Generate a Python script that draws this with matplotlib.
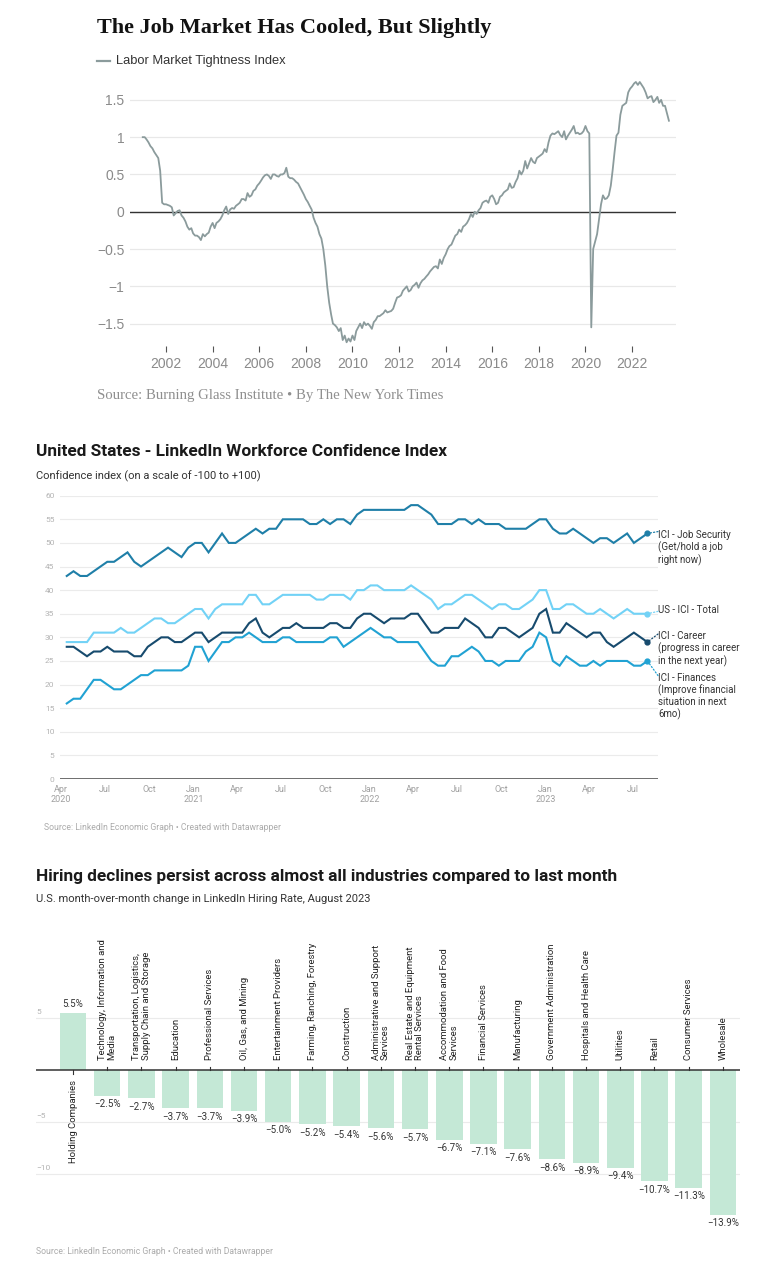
import matplotlib
matplotlib.use('Agg')
import matplotlib.pyplot as plt
import matplotlib.transforms as mtransforms
from matplotlib.lines import Line2D
import pandas as pd

plt.rcParams['font.family'] = ['Roboto', 'DejaVu Sans']

# ---------------------------------------------------------------------------
# Chart 1 - Labor Market Tightness Index, monthly Jan 2001 - Aug 2023
tightness = [
    # 2001
    1.00, 1.00, 0.97, 0.93, 0.88, 0.85, 0.80, 0.76, 0.72, 0.55, 0.12, 0.10,
    # 2002
    0.10, 0.09, 0.08, 0.06, -0.05, -0.02, 0.01, 0.02, -0.05, -0.08, -0.13, -0.20,
    # 2003
    -0.24, -0.22, -0.29, -0.32, -0.32, -0.34, -0.38, -0.30, -0.33, -0.30, -0.28, -0.20,
    # 2004
    -0.15, -0.22, -0.15, -0.13, -0.10, -0.05, 0.02, 0.07, -0.03, 0.03, 0.05, 0.04,
    # 2005
    0.08, 0.10, 0.12, 0.17, 0.17, 0.15, 0.25, 0.20, 0.22, 0.28, 0.30, 0.35,
    # 2006
    0.38, 0.42, 0.46, 0.49, 0.50, 0.48, 0.44, 0.50, 0.50, 0.48, 0.47, 0.50,
    # 2007
    0.50, 0.52, 0.59, 0.47, 0.45, 0.45, 0.43, 0.40, 0.38, 0.33, 0.28, 0.23,
    # 2008
    0.17, 0.13, 0.08, 0.03, -0.08, -0.15, -0.20, -0.30, -0.36, -0.50, -0.72, -1.00,
    # 2009
    -1.22, -1.38, -1.50, -1.52, -1.55, -1.60, -1.56, -1.72, -1.66, -1.75, -1.70, -1.74,
    # 2010
    -1.66, -1.72, -1.60, -1.55, -1.50, -1.56, -1.48, -1.52, -1.50, -1.53, -1.57, -1.48,
    # 2011
    -1.45, -1.40, -1.40, -1.38, -1.36, -1.32, -1.35, -1.34, -1.33, -1.30, -1.22, -1.15,
    # 2012
    -1.14, -1.12, -1.06, -1.03, -1.00, -1.07, -1.05, -1.00, -0.98, -0.95, -1.02, -0.96,
    # 2013
    -0.92, -0.90, -0.87, -0.84, -0.80, -0.77, -0.74, -0.73, -0.76, -0.64, -0.70, -0.62,
    # 2014
    -0.57, -0.50, -0.46, -0.44, -0.38, -0.32, -0.30, -0.24, -0.27, -0.20, -0.18, -0.15,
    # 2015
    -0.10, -0.03, -0.07, 0.00, -0.03, 0.02, 0.05, 0.12, 0.14, 0.15, 0.12, 0.20,
    # 2016
    0.22, 0.17, 0.10, 0.12, 0.20, 0.22, 0.26, 0.28, 0.30, 0.38, 0.32, 0.33,
    # 2017
    0.40, 0.45, 0.55, 0.50, 0.55, 0.68, 0.58, 0.65, 0.72, 0.67, 0.65, 0.72,
    # 2018
    0.74, 0.76, 0.78, 0.84, 0.80, 0.93, 1.02, 1.05, 1.04, 1.06, 1.08, 1.03,
    # 2019
    1.00, 1.08, 0.97, 1.02, 1.06, 1.10, 1.15, 1.05, 1.06, 1.04, 1.05, 1.08,
    # 2020
    1.15, 1.08, 1.05, -1.55, -0.50, -0.40, -0.30, -0.10, 0.10, 0.22, 0.17, 0.18,
    # 2021
    0.22, 0.35, 0.55, 0.80, 1.02, 1.06, 1.30, 1.42, 1.44, 1.46, 1.60, 1.65,
    # 2022
    1.68, 1.72, 1.74, 1.70, 1.74, 1.70, 1.66, 1.60, 1.52, 1.54, 1.55, 1.47,
    # 2023
    1.50, 1.54, 1.46, 1.50, 1.42, 1.42, 1.32, 1.22,
]
tight_dates = pd.date_range('2001-01-01', periods=len(tightness), freq='MS')
tight_yticks = [-1.5, -1, -0.5, 0, 0.5, 1, 1.5]
tight_ylabels = ['\u22121.5', '\u22121', '\u22120.5', '0', '0.5', '1', '1.5']
tight_years = list(range(2002, 2023, 2))

# ---------------------------------------------------------------------------
# Chart 2 - LinkedIn Workforce Confidence Index, biweekly from Apr 2020
wci_start = '2020-04-13'
job_security = [
    43, 44, 43, 43, 44, 45, 46, 46, 47, 48, 46, 45, 46, 47, 48, 49, 48, 47, 49, 50,
    50, 48, 50, 52, 50, 50, 51, 52, 53, 52, 53, 53, 55, 55, 55, 55, 54, 54, 55, 54,
    55, 55, 54, 56, 57, 57, 57, 57, 57, 57, 57, 58, 58, 57, 56, 54, 54, 54, 55, 55,
    54, 55, 54, 54, 54, 53, 53, 53, 53, 54, 55, 55, 53, 52, 52, 53, 52, 51, 50, 51,
    51, 50, 51, 52, 50, 51, 52,
]
ici_total = [
    29, 29, 29, 29, 31, 31, 31, 31, 32, 31, 31, 32, 33, 34, 34, 33, 33, 34, 35, 36,
    36, 34, 36, 37, 37, 37, 37, 39, 39, 37, 37, 38, 39, 39, 39, 39, 39, 38, 38, 39,
    39, 39, 38, 40, 40, 41, 41, 40, 40, 40, 40, 41, 40, 39, 38, 36, 37, 37, 38, 39,
    39, 38, 37, 36, 37, 37, 36, 36, 37, 38, 40, 40, 36, 36, 37, 37, 36, 35, 35, 36,
    35, 34, 35, 36, 35, 35, 35,
]
career = [
    28, 28, 27, 26, 27, 27, 28, 27, 27, 27, 26, 26, 28, 29, 30, 30, 29, 29, 30, 31,
    31, 29, 30, 31, 31, 31, 31, 33, 34, 31, 30, 31, 32, 32, 33, 32, 32, 32, 32, 33,
    33, 32, 32, 34, 35, 35, 34, 33, 34, 34, 34, 35, 35, 33, 31, 31, 32, 32, 32, 34,
    33, 32, 30, 30, 32, 32, 31, 30, 31, 32, 35, 36, 31, 31, 33, 32, 31, 30, 31, 31,
    29, 28, 29, 30, 31, 30, 29,
]
finances = [
    16, 17, 17, 19, 21, 21, 20, 19, 19, 20, 21, 22, 22, 23, 23, 23, 23, 23, 24, 28,
    28, 25, 27, 29, 29, 30, 30, 31, 30, 29, 29, 29, 30, 30, 29, 29, 29, 29, 29, 30,
    30, 28, 29, 30, 31, 32, 31, 30, 30, 29, 29, 29, 29, 27, 25, 24, 24, 26, 26, 27,
    28, 27, 25, 25, 24, 25, 25, 25, 27, 28, 31, 30, 25, 24, 26, 25, 24, 24, 25, 24,
    25, 25, 25, 25, 24, 24, 25,
]
wci_dates = pd.date_range(wci_start, periods=len(job_security), freq='14D')
wci_series = [
    ('ICI - Job Security\n(Get/hold a job\nright now)', job_security, '#1f7fa8', 52.7),
    ('US - ICI - Total', ici_total, '#72d2f6', 35.8),
    ('ICI - Career\n(progress in career\nin the next year)', career, '#174b6e', 31.3),
    ('ICI - Finances\n(Improve financial\nsituation in next\n6mo)', finances, '#21a2d3', 22.5),
]
wci_ticks = pd.date_range('2020-04-01', '2023-07-01', freq='3MS')

# ---------------------------------------------------------------------------
# Chart 3 - month-over-month change in LinkedIn Hiring Rate, Aug 2023
industries = [
    'Holding Companies',
    'Technology, Information and\nMedia',
    'Transportation, Logistics,\nSupply Chain and Storage',
    'Education',
    'Professional Services',
    'Oil, Gas, and Mining',
    'Entertainment Providers',
    'Farming, Ranching, Forestry',
    'Construction',
    'Administrative and Support\nServices',
    'Real Estate and Equipment\nRental Services',
    'Accommodation and Food\nServices',
    'Financial Services',
    'Manufacturing',
    'Government Administration',
    'Hospitals and Health Care',
    'Utilities',
    'Retail',
    'Consumer Services',
    'Wholesale',
]
hiring_change = [5.5, -2.5, -2.7, -3.7, -3.7, -3.9, -5.0, -5.2, -5.4, -5.6,
                 -5.7, -6.7, -7.1, -7.6, -8.6, -8.9, -9.4, -10.7, -11.3, -13.9]

W, H = 781, 1288
fig = plt.figure(figsize=(W / 100, H / 100), dpi=100)


def px_axes(left, top, right, bottom):
    return fig.add_axes([left / W, 1 - bottom / H, (right - left) / W, (bottom - top) / H])


def fy(y):
    return 1 - y / H


# ---------------- chart 1 ----------------
fig.text(97 / W, fy(28), 'The Job Market Has Cooled, But Slightly', family='Liberation Serif',
         weight='bold', size=16, color='#121212', va='center')
fig.add_artist(Line2D([97 / W, 110 / W], [fy(61), fy(61)], color='#8b9b9c', lw=1.6))
fig.text(116 / W, fy(61), 'Labor Market Tightness Index', family='Liberation Sans',
         size=9.3, color='#333333', va='center')

ax1 = px_axes(130, 76, 676, 346)
ax1.plot(tight_dates, tightness, color='#8b9b9c', lw=1.3, zorder=3)
ax1.axhline(0, color='#333333', lw=1.0, zorder=2)
ax1.set_ylim(-1.80, 1.82)
ax1.set_xlim(pd.Timestamp('2000-06-15'), pd.Timestamp('2023-11-20'))
ax1.set_yticks(tight_yticks)
ax1.set_yticklabels(tight_ylabels)
ax1.set_xticks([pd.Timestamp(f'{y}-01-01') for y in tight_years])
ax1.set_xticklabels([str(y) for y in tight_years])
ax1.grid(axis='y', color='#e8e8e8', lw=0.9)
ax1.set_axisbelow(True)
for s in ax1.spines.values():
    s.set_visible(False)
ax1.tick_params(axis='y', length=0, pad=4, labelsize=10, labelcolor='#8a8a8a')
ax1.tick_params(axis='x', length=4, width=0.8, color='#555555', pad=4,
                labelsize=10, labelcolor='#8a8a8a')
for lab in ax1.get_xticklabels() + ax1.get_yticklabels():
    lab.set_family('Liberation Sans')

fig.text(97 / W, fy(395), 'Source: Burning Glass Institute \u2022 By The New York Times',
         family='Liberation Serif', size=10.6, color='#8f8f8f', va='center')

# ---------------- chart 2 ----------------
fig.text(36 / W, fy(452), 'United States - LinkedIn Workforce Confidence Index',
         weight='bold', size=12.4, color='#1a1a1a', va='center')
fig.text(36 / W, fy(476), 'Confidence index (on a scale of -100 to +100)',
         size=8, color='#333333', va='center')

ax2 = px_axes(60, 495.7, 658, 779)
for label, vals, color, label_y in wci_series:
    ax2.plot(wci_dates, vals, color=color, lw=1.5, zorder=3, solid_joinstyle='miter')
    ax2.plot(wci_dates[-1], vals[-1], 'o', color=color, ms=3.5, zorder=4)
    blend = mtransforms.blended_transform_factory(ax2.transAxes, ax2.transData)
    ax2.text(1.0, label_y, label, transform=blend, size=7, color='#333333',
             va='top' if '\n' in label else 'center', ha='left', linespacing=1.15)
    if abs(vals[-1] - label_y) > 1.5:
        ax2.annotate('', xy=(wci_dates[-1], vals[-1]), xycoords='data',
                     xytext=(1.0, label_y - (0.6 if '\n' in label else 0)), textcoords=blend,
                     arrowprops=dict(arrowstyle='-', ls=':', color=color, lw=0.9,
                                     shrinkA=0, shrinkB=0))
    elif abs(vals[-1] - label_y) > 0.5:
        ax2.annotate('', xy=(wci_dates[-1], vals[-1]), xycoords='data',
                     xytext=(1.0, label_y - 0.3), textcoords=blend,
                     arrowprops=dict(arrowstyle='-', ls=':', color=color, lw=0.9,
                                     shrinkA=0, shrinkB=0))

ax2.set_ylim(0, 60)
ax2.set_xlim(pd.Timestamp('2020-03-30'), pd.Timestamp('2023-08-22'))
ax2.set_yticks(range(0, 61, 5))
ax2.grid(axis='y', color='#ebebeb', lw=0.8)
ax2.set_axisbelow(True)
ax2.axhline(0, color='#555555', lw=1.2, zorder=2)
for s in ax2.spines.values():
    s.set_visible(False)
ax2.set_xticks(wci_ticks)
xlabels = []
for d in wci_ticks:
    name = d.strftime('%b')
    if d.month == 1 or d == wci_ticks[0]:
        name += f'\n{d.year}'
    xlabels.append(name)
ax2.set_xticklabels(xlabels, linespacing=1.25)
ax2.tick_params(axis='y', length=0, pad=4, labelsize=6, labelcolor='#b3b3b3')
ax2.tick_params(axis='x', length=0, pad=4, labelsize=6.5, labelcolor='#a0a0a0')

fig.text(44 / W, fy(828), 'Source: LinkedIn Economic Graph \u2022 Created with Datawrapper',
         size=6.2, color='#ababab', va='center')

# ---------------- chart 3 ----------------
fig.text(36 / W, fy(877),
         'Hiring declines persist across almost all industries compared to last month',
         weight='bold', size=12.4, color='#1a1a1a', va='center')
fig.text(36 / W, fy(899), 'U.S. month-over-month change in LinkedIn Hiring Rate, August 2023',
         size=8, color='#333333', va='center')

ax3 = px_axes(36, 1000, 740, 1230)
pos = list(range(len(industries)))
ax3.bar(pos, hiring_change, width=0.775, color='#c4e8d6', zorder=2)
ax3.set_xlim(-1.082, 19.5)
ax3.set_ylim(-15.385, 6.731)
for v in [5, -5, -10]:
    ax3.axhline(v, color='#ebebeb', lw=0.8, zorder=1)
ax3.axhline(0, color='#333333', lw=1.1, zorder=3)
ylab_t = mtransforms.blended_transform_factory(ax3.transAxes, ax3.transData)
for v in [5, -5, -10]:
    ax3.annotate(str(v).replace('-', '\u2212'), xy=(0, v), xycoords=ylab_t,
                 xytext=(0, 2.5), textcoords='offset points', size=6,
                 color='#b3b3b3', ha='left', va='bottom')
for i, (name, val) in enumerate(zip(industries, hiring_change)):
    up = val < 0
    ax3.plot([i, i], [0, 0.32 if up else -0.4], color='#333333', lw=0.8, zorder=3)
    ax3.annotate(name, xy=(i, 0), xytext=(0, 7.5 if up else -7),
                 textcoords='offset points', rotation=90, rotation_mode='anchor',
                 ha='left' if up else 'right', va='center', multialignment='left',
                 size=6.8, color='#222222', linespacing=1.05)
    txt = f'{val:.1f}%'.replace('-', '\u2212')
    ax3.annotate(txt, xy=(i, val), xytext=(0, -2.5 if up else 3),
                 textcoords='offset points', ha='center',
                 va='top' if up else 'bottom', size=7, color='#333333')
ax3.axis('off')

fig.text(36 / W, fy(1252), 'Source: LinkedIn Economic Graph \u2022 Created with Datawrapper',
         size=6.2, color='#ababab', va='center')

fig.savefig('out.png', dpi=100, facecolor='white')
